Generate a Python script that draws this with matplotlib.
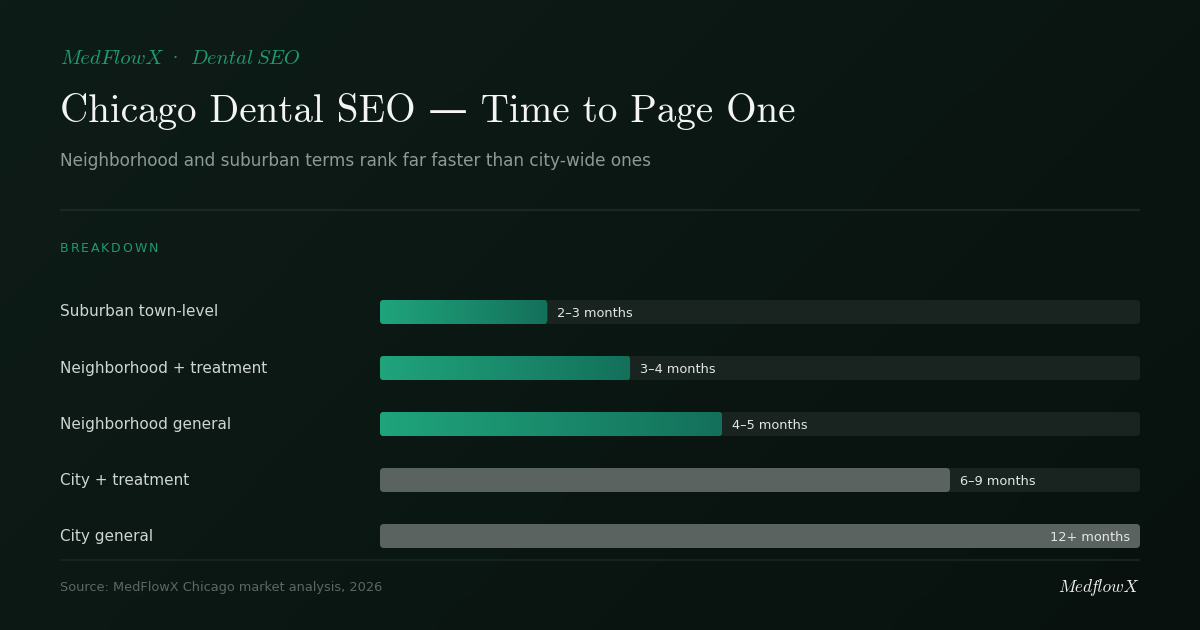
import numpy as np
import matplotlib
matplotlib.use("Agg")
import matplotlib.pyplot as plt
from matplotlib.patches import FancyBboxPatch
from matplotlib.colors import LinearSegmentedColormap

# ---- data ----
categories = ["Suburban town-level", "Neighborhood + treatment", "Neighborhood general",
              "City + treatment", "City general"]
relative_time = [0.22, 0.329, 0.45, 0.75, 1.0]
value_labels = ["2–3 months", "3–4 months", "4–5 months", "6–9 months", "12+ months"]
groups = ["local", "local", "local", "city", "city"]

kicker = ["MedFlowX", "Dental", "SEO"]
title = "Chicago Dental SEO — Time to Page One"
subtitle = "Neighborhood and suburban terms rank far faster than city-wide ones"
section = "BREAKDOWN"
source = "Source: MedFlowX Chicago market analysis, 2026"
brand = ["Med", "flowX"]

W, H = 1200, 630
fig = plt.figure(figsize=(12, 6.3), dpi=100)

# background
bg = fig.add_axes([0, 0, 1, 1], zorder=0)
bg.set_xlim(0, W); bg.set_ylim(H, 0); bg.axis("off")
xx, yy = np.meshgrid(np.linspace(0, 1, 300), np.linspace(0, 1, 160))
t = (xx * W + yy * H) / (W + H)
bg_cmap = LinearSegmentedColormap.from_list("bg", ["#0e1c18", "#0b1713", "#08110e"])
bg.imshow(t, cmap=bg_cmap, extent=[0, W, H, 0], aspect="auto", zorder=0)

SERIF = ["cmr10", "DejaVu Serif"]
ITAL = ["cmmi10", "DejaVu Serif"]
SANS = ["DejaVu Sans"]

fig.canvas.draw()
r = fig.canvas.get_renderer()


def width_of(tt):
    return tt.get_window_extent(renderer=r).width


# header kicker
GREEN = "#1f9a72"
bg.text(60, 59, kicker[0], family=ITAL, fontsize=15, color=GREEN, va="center", ha="left")
bg.text(175, 59, "·", family=["DejaVu Serif"], fontsize=12, color=GREEN, va="center", ha="center")
t1 = bg.text(190, 59, kicker[1], family=ITAL, fontsize=14.8, color=GREEN, va="center", ha="left")
bg.text(190 + width_of(t1) + 4, 59, kicker[2], family=ITAL, fontsize=14.8, color=GREEN,
        va="center", ha="left")

bg.text(60, 112, title, family=SERIF, fontsize=28.1, color="#f4f5f3", va="center", ha="left")
bg.text(60, 161, subtitle, family=SANS, fontsize=12.15, color="#8f9a96", va="center", ha="left")
bg.plot([60, 1140], [210, 210], color="#1b2723", lw=1.6, solid_capstyle="butt")

# letter-spaced section label
x = 60.0
for ch in section:
    tt = bg.text(x, 248, ch, family=SANS, fontsize=9, color=GREEN, va="center", ha="left")
    x += width_of(tt) + 1.85

# footer
bg.plot([60, 1140], [560, 560], color="#17221e", lw=1.6, solid_capstyle="butt")
bg.text(60, 588, source, family=SANS, fontsize=9.25, color="#5d6864", va="center", ha="left")
b2 = bg.text(1138, 587, brand[1], family=ITAL, fontsize=12.5, color="#f2f3f1", va="center", ha="right")
bg.text(1138 - width_of(b2) + 3, 587, brand[0], family=ITAL, fontsize=12.5, color="#f2f3f1",
        va="center", ha="right")

# bars axes
top_px, bot_px = 300, 548
ax = fig.add_axes([380 / W, (H - bot_px) / H, 760 / W, (bot_px - top_px) / H], zorder=2)
ax.patch.set_alpha(0)
ax.axis("off")
n = len(categories)
bar_h = 24 / 56
ax.set_xlim(0, 1)
ax.set_ylim(n - 1 + bar_h / 2, -bar_h / 2)
aspect = (1 / 56) / (1 / 760)
rad = 4 / 760

green = LinearSegmentedColormap.from_list("g", ["#1fa47b", "#1a8b6c", "#13705a"])
grad = np.linspace(0, 1, 256).reshape(1, -1)

for i, (cat, v, lab, g) in enumerate(zip(categories, relative_time, value_labels, groups)):
    y0 = i - bar_h / 2
    track = FancyBboxPatch((0, y0), 1, bar_h, boxstyle=f"round,pad=0,rounding_size={rad}",
                           mutation_aspect=aspect, fc="#19231f", ec="none", zorder=1)
    ax.add_patch(track)
    bar = FancyBboxPatch((0, y0), v, bar_h, boxstyle=f"round,pad=0,rounding_size={rad}",
                         mutation_aspect=aspect, fc="#5a6360" if g == "city" else "#1a8b6c",
                         ec="none", zorder=2)
    ax.add_patch(bar)
    if g == "local":
        im = ax.imshow(grad, cmap=green, extent=[0, v, y0 + bar_h, y0], aspect="auto", zorder=3)
        im.set_clip_path(bar)
    # category label
    bg.text(60, top_px + 12 + i * 56, cat, family=SANS, fontsize=11, color="#cfd5d2",
            va="center", ha="left")
    if v >= 0.99:
        ax.text(v - 10 / 760, i + 0.02, lab, fontsize=9.3, family=SANS, color="#e4e7e5",
                va="center", ha="right", zorder=4)
    else:
        ax.text(v + 10 / 760, i + 0.02, lab, fontsize=9.3, family=SANS, color="#e4e7e5",
                va="center", ha="left", zorder=4)

fig.savefig("out.png", dpi=100, facecolor="#0b1713")
